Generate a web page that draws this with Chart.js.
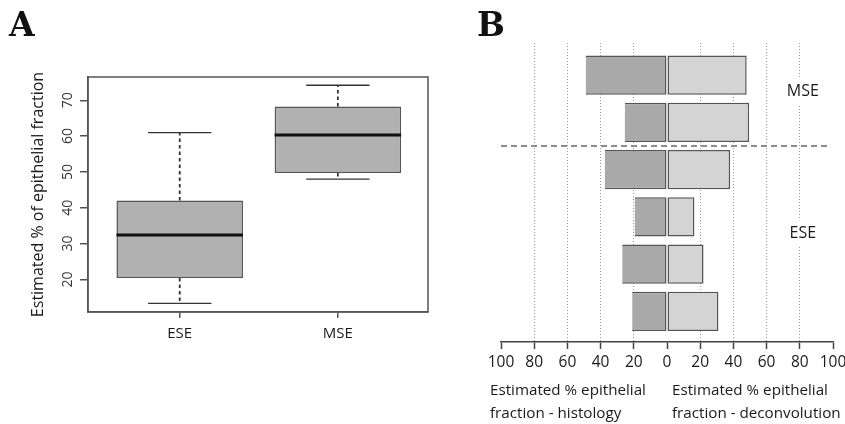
<!DOCTYPE html>
<html>
<head>
<meta charset="utf-8">
<script src="https://cdn.jsdelivr.net/npm/chart.js@4/dist/chart.umd.min.js"></script>
<style>
  body { margin: 0; background: #fff; }
  #wrap { position: relative; width: 845px; height: 424px; overflow: hidden; font-family: 'Open Sans', sans-serif; color: #1a1a1a; }
  canvas { position: absolute; top: 0; }
  .panel { position: absolute; font-family: 'DejaVu Serif', serif; font-weight: bold; font-size: 33px; line-height: 1; color: #111; }
  .axt { position: absolute; font-size: 15.2px; line-height: 23px; white-space: nowrap; color: #1a1a1a; }
</style>
</head>
<body>
<div id="wrap">
  <canvas id="boxA" width="440" height="424" style="left:0"></canvas>
  <canvas id="barB" width="405" height="424" style="left:440px"></canvas>
  <div class="panel" style="left:9px;top:8px">A</div>
  <div class="panel" style="left:477px;top:8px">B</div>
  <div class="axt" style="left:490px;top:378px">Estimated % epithelial<br>fraction - histology</div>
  <div class="axt" style="left:672px;top:378px">Estimated % epithelial<br>fraction - deconvolution</div>
</div>
<script>
// --- panel A: box plot summary per group ---
const groupsA = ["ESE", "MSE"];
const whiskerLow = [13.3, 48.0];
const boxLow = [20.4, 49.7];
const medians = [32.4, 60.3];
const boxHigh = [42.0, 68.3];
const whiskerHigh = [61.0, 74.2];
const ticksA = [20, 30, 40, 50, 60, 70];

// --- panel B: one row per sample, top to bottom ---
const sampleGroup = ["MSE", "MSE", "ESE", "ESE", "ESE", "ESE"];
const histology = [49, 25.5, 37.5, 19.5, 27, 21];
const deconvolution = [48, 49.5, 38, 16.5, 22, 31];
const ticksB = [-100, -80, -60, -40, -20, 0, 20, 40, 60, 80, 100];

Chart.defaults.font.family = "'Open Sans', sans-serif";
Chart.defaults.color = "#1a1a1a";

function line(ctx, x1, y1, x2, y2) {
  ctx.beginPath();
  ctx.moveTo(x1, y1);
  ctx.lineTo(x2, y2);
  ctx.stroke();
}

// whiskers, caps, medians and the frame round the plot (like R's box())
const boxExtras = {
  id: "boxExtras",
  afterDatasetsDraw(chart) {
    const { ctx, chartArea: a, scales: { x, y } } = chart;
    const bars = chart.getDatasetMeta(0).data;
    ctx.save();
    groupsA.forEach((g, i) => {
      const cx = x.getPixelForValue(i + 1);
      const half = bars[i].width / 2;
      ctx.strokeStyle = "#333";
      ctx.lineWidth = 1.8;
      ctx.setLineDash([3.5, 3]);
      line(ctx, cx, y.getPixelForValue(boxHigh[i]), cx, y.getPixelForValue(whiskerHigh[i]));
      line(ctx, cx, y.getPixelForValue(boxLow[i]), cx, y.getPixelForValue(whiskerLow[i]));
      ctx.setLineDash([]);
      ctx.lineWidth = 1.3;
      line(ctx, cx - half / 2, y.getPixelForValue(whiskerHigh[i]), cx + half / 2, y.getPixelForValue(whiskerHigh[i]));
      line(ctx, cx - half / 2, y.getPixelForValue(whiskerLow[i]), cx + half / 2, y.getPixelForValue(whiskerLow[i]));
      ctx.strokeStyle = "#111";
      ctx.lineWidth = 3;
      line(ctx, cx - half, y.getPixelForValue(medians[i]), cx + half, y.getPixelForValue(medians[i]));
    });
    ctx.strokeStyle = "#555";
    ctx.lineWidth = 1.5;
    ctx.strokeRect(a.left, a.top, a.width, a.height);
    ctx.restore();
  }
};

new Chart(document.getElementById("boxA"), {
  type: "bar",
  data: {
    datasets: [{
      data: groupsA.map((g, i) => ({ x: i + 1, y: [boxLow[i], boxHigh[i]] })),
      backgroundColor: "#b1b1b1",
      borderColor: "#555",
      borderWidth: 1.5,
      borderSkipped: false,
      barPercentage: 0.8,
      categoryPercentage: 1
    }]
  },
  options: {
    responsive: false,
    animation: false,
    devicePixelRatio: 1,
    layout: { padding: { left: 0, top: 77, right: 12, bottom: 72 } },
    plugins: { legend: { display: false }, tooltip: { enabled: false } },
    scales: {
      x: {
        type: "linear",
        min: 0.42,
        max: 2.57,
        bounds: "data",
        offset: false,
        afterBuildTicks: (s) => { s.ticks = groupsA.map((g, i) => ({ value: i + 1 })); },
        afterFit: (s) => { s.height = 40; },
        grid: { offset: false, drawOnChartArea: false, tickLength: 6, tickColor: "#555", lineWidth: 1.5 },
        border: { color: "#555", width: 1.5 },
        ticks: { callback: (v) => groupsA[v - 1], font: { size: 15 }, padding: 7, maxRotation: 0, autoSkip: false }
      },
      y: {
        min: 10.9,
        max: 76.5,
        bounds: "data",
        afterBuildTicks: (s) => { s.ticks = ticksA.map((v) => ({ value: v })); },
        afterFit: (s) => { s.width = 88; },
        grid: { drawOnChartArea: false, tickLength: 8, tickColor: "#555", lineWidth: 1.5 },
        border: { color: "#555", width: 1.5 },
        ticks: { minRotation: 90, maxRotation: 90, crossAlign: "center", font: { size: 14 }, color: "#333", padding: 4 },
        title: {
          display: true,
          text: "Estimated % of epithelial fraction",
          font: { size: 16 },
          padding: { top: 29, bottom: 0 }
        }
      }
    }
  },
  plugins: [boxExtras]
});

// dashed separator between groups and the group names at the right
const groupExtras = {
  id: "groupExtras",
  afterDatasetsDraw(chart) {
    const { ctx, chartArea: a, scales: { x, y } } = chart;
    ctx.save();
    ctx.strokeStyle = "#8c8c8c";
    ctx.lineWidth = 2;
    ctx.setLineDash([6, 4]);
    for (let i = 1; i < sampleGroup.length; i++) {
      if (sampleGroup[i] !== sampleGroup[i - 1]) {
        const yy = y.getPixelForValue(i + 0.5);
        line(ctx, a.left, yy, a.right - 4, yy);
      }
    }
    ctx.setLineDash([]);
    ctx.font = "16px 'Open Sans'";
    ctx.textAlign = "center";
    ctx.textBaseline = "middle";
    const names = [...new Set(sampleGroup)];
    names.forEach((g) => {
      const rows = sampleGroup.map((s, i) => (s === g ? i + 1 : null)).filter((v) => v !== null);
      const mid = rows.reduce((p, c) => p + c, 0) / rows.length;
      const px = x.getPixelForValue(80) + 3;
      const py = y.getPixelForValue(mid - 0.15);
      const w = ctx.measureText(g).width;
      ctx.fillStyle = "#fff";
      ctx.fillRect(px - w / 2 - 5, py - 13, w + 10, 26);
      ctx.fillStyle = "#1a1a1a";
      ctx.fillText(g, px, py);
    });
    ctx.restore();
  }
};

new Chart(document.getElementById("barB"), {
  type: "bar",
  data: {
    datasets: [
      {
        label: "histology",
        data: histology.map((v, i) => ({ y: i + 1, x: [-v, 0] })),
        backgroundColor: "#a9a9a9",
        borderColor: "#555",
        borderWidth: 1.5,
        borderSkipped: "right",
        grouped: false,
        barPercentage: 0.83,
        categoryPercentage: 1
      },
      {
        label: "deconvolution",
        data: deconvolution.map((v, i) => ({ y: i + 1, x: [0, v] })),
        backgroundColor: "#d4d4d4",
        borderColor: "#555",
        borderWidth: 1.5,
        borderSkipped: false,
        grouped: false,
        barPercentage: 0.83,
        categoryPercentage: 1
      }
    ]
  },
  options: {
    indexAxis: "y",
    responsive: false,
    animation: false,
    devicePixelRatio: 1,
    layout: { padding: { left: 61, top: 43, right: 12, bottom: 42 } },
    plugins: { legend: { display: false }, tooltip: { enabled: false } },
    scales: {
      x: {
        type: "linear",
        min: -100,
        max: 100,
        bounds: "data",
        offset: false,
        afterBuildTicks: (s) => { s.ticks = ticksB.map((v) => ({ value: v })); },
        afterFit: (s) => { s.height = 40; s.paddingLeft = 0; s.paddingRight = 0; },
        grid: {
          offset: false,
          color: (c) => (c.tick && [0, -100, 100].includes(c.tick.value) ? "rgba(0,0,0,0)" : "#9a9a9a"),
          lineWidth: 1,
          tickLength: 7,
          tickColor: "#444",
          tickWidth: 1.5
        },
        border: { color: "#444", width: 1.5, dash: [1, 2] },
        ticks: { callback: (v) => Math.abs(v), font: { size: 15.5 }, padding: 4, maxRotation: 0, autoSkip: false }
      },
      y: {
        type: "linear",
        reverse: true,
        min: 0.32,
        max: 6.65,
        bounds: "data",
        offset: false,
        display: false,
        grid: { offset: false },
        afterBuildTicks: (s) => { s.ticks = histology.map((v, i) => ({ value: i + 1 })); }
      }
    }
  },
  plugins: [groupExtras]
});
</script>
</body>
</html>
